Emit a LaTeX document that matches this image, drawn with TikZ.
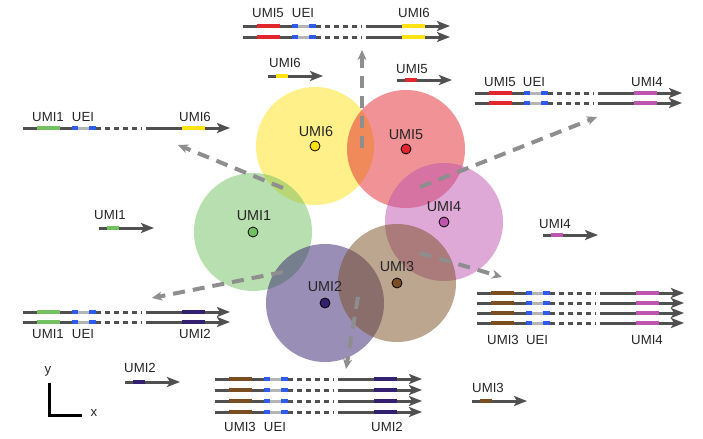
\documentclass[tikz,border=0pt]{standalone}
\usepackage{fontspec}
\setmainfont{Liberation Sans}
\usetikzlibrary{arrows.meta}

\definecolor{strandgray}{HTML}{505050}
\definecolor{flowgray}{HTML}{8E8E8E}
\definecolor{ueiblue}{HTML}{2E5BEA}
\definecolor{ueigray}{HTML}{B4B4B4}
\definecolor{umione}{HTML}{72C060}
\definecolor{umitwo}{HTML}{34206E}
\definecolor{umithree}{HTML}{7A4E22}
\definecolor{umifour}{HTML}{BE55AE}
\definecolor{umifive}{HTML}{E2262E}
\definecolor{umisix}{HTML}{FFE214}

\tikzset{
  strand/.style={draw=strandgray, line width=1.5pt},
  strandend/.style={strand, -{Stealth[length=6.5pt, width=5pt, inset=1.5pt]}},
  umiseg/.style={draw=#1, line width=2pt},
  ueiseg/.style={draw=ueiblue, line width=2pt},
  umidisc/.style={circle, minimum size=59pt, inner sep=0pt, fill=#1, fill opacity=0.5},
  umidot/.style={circle, minimum size=5pt, inner sep=0pt, fill=#1, draw=black, line width=0.4pt},
  flowarrow/.style={draw=flowgray, line width=2pt, dash pattern=on 6pt off 4pt,
    -{Stealth[length=5pt, width=4.5pt, inset=1.5pt]}},
  umilabel/.style={inner sep=0pt, text=black!85, font=\fontsize{6.6pt}{7pt}\selectfont},
  disclabel/.style={umilabel, font=\fontsize{7.2pt}{8pt}\selectfont},
}

% one long read: start x, y, first UMI colour, second UMI colour
\newcommand{\longread}[4]{%
  \begin{scope}[shift={(#1,#2)}]
    \draw[strand] (0,0) -- (49,0);
    \draw[strand, draw=ueigray] (55,0) -- (66,0);
    \draw[ueiseg] (49,0) -- (55,0) (66,0) -- (73,0);
    \draw[strand, dash pattern=on 2.5pt off 2pt] (73,0) -- (119,0);
    \draw[strandend] (123,0) -- (207,0);
    \draw[umiseg=#3] (14,0) -- (37,0);
    \draw[umiseg=#4] (159,0) -- (182,0);
  \end{scope}}

% one short read: start x, y, UMI colour
\newcommand{\shortread}[3]{%
  \begin{scope}[shift={(#1,#2)}]
    \draw[strandend] (0,0) -- (55,0);
    \draw[umiseg=#3] (8,0) -- (20,0);
  \end{scope}}

\begin{document}
\begin{tikzpicture}[x=0.5pt, y=-0.5pt]
  \fill[white] (0,0) rectangle (703,439);
  \useasboundingbox (0,0) rectangle (703,439);

  % overlapping UMI domains
  \node[umidisc=umisix] (c6) at (315,146) {};
  \node[umidisc=umifive] (c5) at (406,149) {};
  \node[umidisc=umifour] (c4) at (444,222) {};
  \node[umidisc=umione] (c1) at (253,232) {};
  \node[umidisc=umitwo] (c2) at (325,303) {};
  \node[umidisc=umithree] (c3) at (397,283) {};

  % where the dashed arrows start and end
  \coordinate (f16) at (283,188);
  \coordinate (t16) at (178,145);
  \coordinate (f56) at (362,148);
  \coordinate (t56) at (362,50);
  \coordinate (f54) at (420,187);
  \coordinate (t54) at (597,117);
  \coordinate (f12) at (283,272);
  \coordinate (t12) at (152,298);
  \coordinate (f34) at (420,253);
  \coordinate (t34) at (502,277);
  \coordinate (f32) at (358,297);
  \coordinate (t32) at (346,369);

  \draw[flowarrow] (f16) -- (t16);
  \draw[flowarrow] (f56) -- (t56);
  \draw[flowarrow] (f54) -- (t54);
  \draw[flowarrow] (f12) -- (t12);
  \draw[flowarrow] (f34) -- (t34);
  \draw[flowarrow] (f32) -- (t32);

  % centres and names
  \node[umidot=umisix] (d6) at (315,146) {};
  \node[umidot=umifive] (d5) at (406,149) {};
  \node[umidot=umifour] (d4) at (444,222) {};
  \node[umidot=umione] (d1) at (253,232) {};
  \node[umidot=umitwo] (d2) at (325,303) {};
  \node[umidot=umithree] (d3) at (397,283) {};
  \node[disclabel] (n6) at (316,132) {UMI6};
  \node[disclabel] (n5) at (406,135) {UMI5};
  \node[disclabel] (n4) at (444,207) {UMI4};
  \node[disclabel] (n1) at (254,216) {UMI1};
  \node[disclabel] (n2) at (325,287) {UMI2};
  \node[disclabel] (n3) at (397,267) {UMI3};

  % single reads
  \shortread{268}{76}{umisix}
  \node[umilabel] (s6) at (285,63) {UMI6};
  \shortread{397}{80}{umifive}
  \node[umilabel] (s5) at (412,69) {UMI5};
  \shortread{99}{228}{umione}
  \node[umilabel] (s1) at (110,215) {UMI1};
  \shortread{543}{235}{umifour}
  \node[umilabel] (s4) at (555,224) {UMI4};
  \shortread{125}{382}{umitwo}
  \node[umilabel] (s2) at (140,368) {UMI2};
  \shortread{472}{401}{umithree}
  \node[umilabel] (s3) at (488,388) {UMI3};

  % linked reads, top
  \foreach \y in {26,37} {\longread{243}{\y}{umifive}{umisix}}
  \node[umilabel] (a1) at (268,13) {UMI5};
  \node[umilabel] (a2) at (303,13) {UEI};
  \node[umilabel] (a3) at (414,13) {UMI6};

  % linked reads, left
  \longread{23}{128}{umione}{umisix}
  \node[umilabel] (b1) at (48,117) {UMI1};
  \node[umilabel] (b2) at (83,117) {UEI};
  \node[umilabel] (b3) at (195,117) {UMI6};

  % linked reads, right top
  \foreach \y in {93,103} {\longread{475}{\y}{umifive}{umifour}}
  \node[umilabel] (e1) at (500,82) {UMI5};
  \node[umilabel] (e2) at (534,82) {UEI};
  \node[umilabel] (e3) at (647,82) {UMI4};

  % linked reads, left middle
  \foreach \y in {312,322} {\longread{23}{\y}{umione}{umitwo}}
  \node[umilabel] (g1) at (48,334) {UMI1};
  \node[umilabel] (g2) at (83,334) {UEI};
  \node[umilabel] (g3) at (195,334) {UMI2};

  % linked reads, right middle
  \foreach \y in {293,303,313,323} {\longread{477}{\y}{umithree}{umifour}}
  \node[umilabel] (h1) at (503,340) {UMI3};
  \node[umilabel] (h2) at (537,340) {UEI};
  \node[umilabel] (h3) at (647,340) {UMI4};

  % linked reads, bottom
  \foreach \y in {379,390,401,412} {\longread{215}{\y}{umithree}{umitwo}}
  \node[umilabel] (k1) at (240,427) {UMI3};
  \node[umilabel] (k2) at (275,427) {UEI};
  \node[umilabel] (k3) at (387,427) {UMI2};

  % axes
  \coordinate (ytop) at (49,383);
  \coordinate (origin) at (49,415);
  \coordinate (xend) at (82,415);
  \draw[line width=1.5pt] (ytop) -- (origin) -- (xend);
  \node[umilabel] (ylab) at (48,371) {y};
  \node[umilabel] (xlab) at (94,413) {x};
\end{tikzpicture}
\end{document}
